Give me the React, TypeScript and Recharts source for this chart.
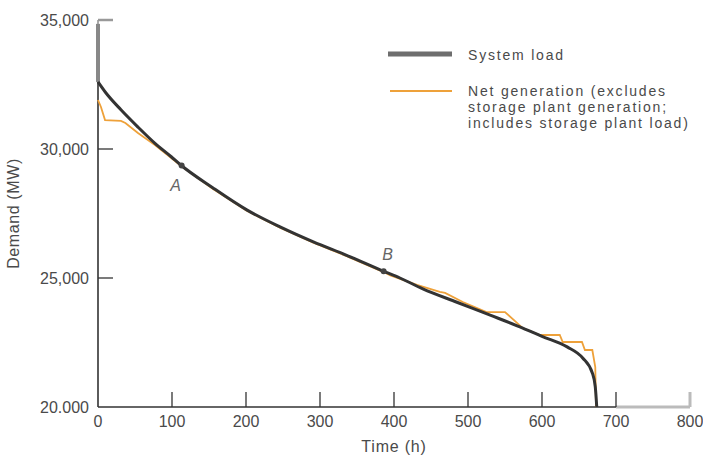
import {
  LineChart,
  Line,
  XAxis,
  YAxis,
  ReferenceDot,
  ReferenceLine,
} from "recharts";

// hours vs MW
const peakHours = [0, 0];
const peakMW = [34850, 32600];

const loadHours = [0, 10, 31, 54, 77, 99, 111, 155, 201, 246, 291, 336, 386, 408, 439, 485, 530, 574, 600, 634, 655, 668, 672, 674];
const loadMW = [32600, 32200, 31520, 30850, 30220, 29700, 29400, 28500, 27640, 26980, 26400, 25880, 25260, 25000, 24580, 24060, 23560, 23060, 22740, 22330, 21900, 21320, 20780, 20000];

const netHours = [0, 4, 9.5, 31, 37, 54, 77, 99, 112, 155, 201, 246, 291, 336, 386, 395, 431, 462, 469, 493, 525, 550, 574, 597, 624, 628, 654, 658, 668, 672, 673];
const netMW = [31900, 31630, 31120, 31090, 31010, 30620, 30150, 29650, 29350, 28460, 27610, 26950, 26370, 25850, 25230, 25100, 24730, 24460, 24420, 24070, 23680, 23680, 23060, 22790, 22790, 22520, 22520, 22210, 22210, 21550, 20000];

const markers = [
  { name: "A", hour: 113, mw: 29360 },
  { name: "B", hour: 386, mw: 25260 },
];

const xTicks = [0, 100, 200, 300, 400, 500, 600, 700, 800];
const yTicks = [20000, 25000, 30000, 35000];
const yTickText: Record<number, string> = {
  20000: "20.000",
  25000: "25,000",
  30000: "30,000",
  35000: "35,000",
};

const peakData = peakHours.map((h, i) => ({ h, mw: peakMW[i] }));
const loadData = loadHours.map((h, i) => ({ h, mw: loadMW[i] }));
const netData = netHours.map((h, i) => ({ h, mw: netMW[i] }));

const FONT = "'Liberation Sans', Arial, sans-serif";
const TEXT = "#4a4a4a";
const DARK = "#333";
const ORANGE = "#eea13a";

function XTick({ x, y, payload }: any) {
  const v = payload.value;
  const faint = v === 800;
  return (
    <g>
      {v !== 0 && (
        <line x1={x} y1={y} x2={x} y2={y - 15} stroke={faint ? "#bbb" : DARK} strokeWidth={faint ? 3 : 1.3} />
      )}
      <text x={x} y={y + 20} textAnchor="middle" fontSize={16} fill={TEXT} fontFamily={FONT}>
        {v}
      </text>
    </g>
  );
}

function YTick({ x, y, payload }: any) {
  const v = payload.value;
  const faint = v === 35000;
  return (
    <g>
      {v !== 20000 && (
        <line x1={x} y1={y} x2={x + 15} y2={y} stroke={faint ? "#999" : DARK} strokeWidth={faint ? 2.5 : 1.3} />
      )}
      <text x={x - 9} y={y} dy={6} textAnchor="end" fontSize={16} fill={TEXT} fontFamily={FONT}>
        {yTickText[v]}
      </text>
    </g>
  );
}

function LegendBox() {
  const textStyle = { fontSize: 14, fill: TEXT, fontFamily: FONT, letterSpacing: 1.8 };
  return (
    <svg width={320} height={92}>
      <line x1={4} y1={10} x2={68} y2={10} stroke="#555" strokeWidth={5} opacity={0.85} />
      <text x={84} y={16} {...textStyle}>System load</text>
      <line x1={6} y1={47} x2={68} y2={47} stroke={ORANGE} strokeWidth={2} />
      <text x={84} y={52} {...textStyle}>Net generation (excludes</text>
      <text x={84} y={68} {...textStyle}>storage plant generation;</text>
      <text x={84} y={84} {...textStyle}>includes storage plant load)</text>
    </svg>
  );
}

export default function App() {
  return (
    <div style={{ position: "absolute", left: 0, top: 0, width: 703, height: 456, background: "#fff" }}>
      <LineChart width={703} height={456} margin={{ top: 20, right: 13, bottom: 0, left: 0 }}>
        <XAxis
          dataKey="h"
          type="number"
          domain={[0, 800]}
          ticks={xTicks}
          allowDuplicatedCategory={false}
          axisLine={false}
          tickLine={false}
          tickSize={0}
          tickMargin={0}
          height={49}
          tick={<XTick />}
          interval={0}
          label={{ value: "Time (h)", position: "insideBottom", offset: 4, fontSize: 16, fill: TEXT, fontFamily: FONT, letterSpacing: 0.8 }}
        />
        <YAxis
          type="number"
          domain={[20000, 35000]}
          ticks={yTicks}
          axisLine={false}
          tickLine={false}
          tickSize={0}
          tickMargin={0}
          width={98}
          tick={<YTick />}
          interval={0}
          label={{
            content: ({ viewBox }: any) => {
              const cy = viewBox.y + viewBox.height / 2;
              return (
                <text x={19} y={cy} transform={`rotate(-90 19 ${cy})`} textAnchor="middle" fontSize={16} fill={TEXT} fontFamily={FONT} letterSpacing={0.6}>
                  Demand (MW)
                </text>
              );
            },
          }}
        />
        <ReferenceLine segment={[{ x: 0, y: 20000 }, { x: 700, y: 20000 }]} stroke={DARK} strokeWidth={1.6} />
        <ReferenceLine segment={[{ x: 700, y: 20000 }, { x: 800, y: 20000 }]} stroke="#bbb" strokeWidth={3} />
        <ReferenceLine segment={[{ x: 0, y: 20000 }, { x: 0, y: 32600 }]} stroke={DARK} strokeWidth={1.6} />
        <ReferenceLine segment={[{ x: 0, y: 32600 }, { x: 0, y: 35000 }]} stroke="#aaa" strokeWidth={2} />
        <Line
          data={peakData}
          dataKey="mw"
          type="linear"
          stroke="#888"
          strokeWidth={4}
          dot={false}
          isAnimationActive={false}
        />
        <Line
          data={netData}
          dataKey="mw"
          type="linear"
          stroke={ORANGE}
          strokeWidth={1.8}
          dot={false}
          isAnimationActive={false}
        />
        <Line
          data={loadData}
          dataKey="mw"
          type="monotone"
          stroke={DARK}
          strokeWidth={3}
          dot={false}
          isAnimationActive={false}
        />
        {markers.map((m) => (
          <ReferenceDot
            key={m.name}
            x={m.hour}
            y={m.mw}
            r={3}
            fill="#444"
            stroke="none"
            label={{
              value: m.name,
              position: m.name === "A" ? "bottom" : "top",
              offset: m.name === "A" ? 11 : 8,
              dx: m.name === "A" ? -6 : 4,
              fontSize: 16,
              fontStyle: "italic",
              fill: "#666",
              fontFamily: FONT,
            }}
          />
        ))}
      </LineChart>
      <div style={{ position: "absolute", left: 384, top: 44 }}>
        <LegendBox />
      </div>
    </div>
  );
}
